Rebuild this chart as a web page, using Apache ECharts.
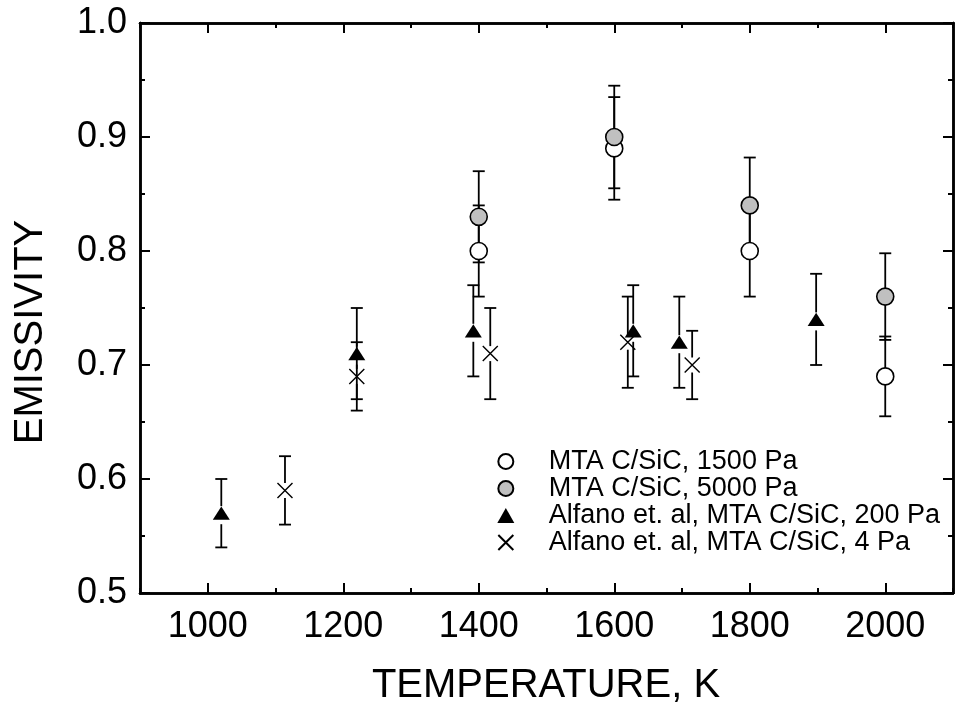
<!DOCTYPE html>
<html>
<head>
<meta charset="utf-8">
<script src="https://cdn.jsdelivr.net/npm/echarts@6/dist/echarts.min.js"></script>
<style>
  html, body { margin: 0; padding: 0; background: #fff; }
  #chart { width: 957px; height: 708px; }
</style>
</head>
<body>
<div id="chart"></div>
<script>
// data
var xMajor = [1000, 1200, 1400, 1600, 1800, 2000];
var yMajor = [0.5, 0.6, 0.7, 0.8, 0.9, 1.0];

var mta1500T = [1400, 1600, 1800, 2000];
var mta1500E = [0.80, 0.89, 0.80, 0.69];
var mta1500Err = [0.04, 0.045, 0.04, 0.035];

var mta5000T = [1400, 1600, 1800, 2000];
var mta5000E = [0.83, 0.90, 0.84, 0.76];
var mta5000Err = [0.04, 0.045, 0.042, 0.038];

var alf200T = [1020, 1220, 1392, 1628, 1696, 1898];
var alf200E = [0.57, 0.71, 0.73, 0.73, 0.72, 0.74];
var alf200Err = [0.03, 0.04, 0.04, 0.04, 0.04, 0.04];

var alf4T = [1114, 1220, 1417, 1620, 1715];
var alf4E = [0.59, 0.69, 0.71, 0.72, 0.70];
var alf4Err = [0.03, 0.03, 0.04, 0.04, 0.03];

var names = [
  'MTA C/SiC, 1500 Pa',
  'MTA C/SiC, 5000 Pa',
  'Alfano et. al, MTA C/SiC, 200 Pa',
  'Alfano et. al, MTA C/SiC, 4 Pa'
];

var FONT = '"Liberation Sans", Arial, sans-serif';
var crossPath = 'path://M0,0L10,10M10,0L0,10';
var triPath = 'path://M8.5,0L17,15L0,15Z';

function pts(t, e) {
  return t.map(function (v, i) { return [v, e[i]]; });
}
function bars(t, e, err) {
  return t.map(function (v, i) { return [v, e[i], err[i]]; });
}

// error bar that leaves a gap round the symbol
function errBar(gapUp, gapDown) {
  return function (params, api) {
    var x = api.value(0), y = api.value(1), e = api.value(2);
    var c = api.coord([x, y]);
    var hi = api.coord([x, y + e]);
    var lo = api.coord([x, y - e]);
    var hw = 6;
    var st = { stroke: '#000', lineWidth: 1.8 };
    var ch = [];
    if (c[1] - gapUp > hi[1]) ch.push({ type: 'line', shape: { x1: c[0], y1: hi[1], x2: c[0], y2: c[1] - gapUp }, style: st });
    if (c[1] + gapDown < lo[1]) ch.push({ type: 'line', shape: { x1: c[0], y1: c[1] + gapDown, x2: c[0], y2: lo[1] }, style: st });
    ch.push({ type: 'line', shape: { x1: c[0] - hw, y1: hi[1], x2: c[0] + hw, y2: hi[1] }, style: st });
    ch.push({ type: 'line', shape: { x1: c[0] - hw, y1: lo[1], x2: c[0] + hw, y2: lo[1] }, style: st });
    return { type: 'group', children: ch };
  };
}

function xAx(pos, len, custom, labels) {
  return {
    type: 'value', position: pos, min: 900, max: 2100, interval: 100,
    axisLine: { show: true, onZero: false, lineStyle: { color: '#000', width: 2.5 } },
    axisTick: { show: true, inside: true, length: len, customValues: custom, lineStyle: { color: '#000', width: 2 } },
    axisLabel: {
      show: labels, customValues: xMajor, margin: 16, color: '#000', fontSize: 36, fontFamily: FONT,
      formatter: function (v) { return (v % 200 === 0 && v >= 1000 && v <= 2000) ? String(v) : ''; }
    },
    splitLine: { show: false }
  };
}
function yAx(pos, len, custom, labels) {
  return {
    type: 'value', position: pos, min: 0.5, max: 1.0, interval: 0.05,
    axisLine: { show: true, onZero: false, lineStyle: { color: '#000', width: 2.5 } },
    axisTick: { show: true, inside: true, length: len, customValues: custom, lineStyle: { color: '#000', width: 2 } },
    axisLabel: {
      show: labels, customValues: yMajor, margin: 13, color: '#000', fontSize: 36, fontFamily: FONT,
      formatter: function (v) { return Math.round(v * 100) % 10 === 0 ? v.toFixed(1) : ''; }
    },
    splitLine: { show: false }
  };
}

var chart = echarts.init(document.getElementById('chart'));

var option = {
  backgroundColor: '#fff',
  animation: false,
  grid: { left: 140, top: 23, right: 4, bottom: 115 },
  xAxis: [
    xAx('bottom', 5, undefined, true),
    xAx('bottom', 10, xMajor, false),
    xAx('top', 5, undefined, false),
    xAx('top', 10, xMajor, false)
  ],
  yAxis: [
    yAx('left', 5, undefined, true),
    yAx('left', 10, yMajor, false),
    yAx('right', 5, undefined, false),
    yAx('right', 10, yMajor, false)
  ],
  legend: {
    data: names,
    orient: 'vertical',
    right: 12, top: 443,
    itemWidth: 76, itemHeight: 15, itemGap: 0,
    symbolKeepAspect: true,
    textStyle: { fontSize: 27, lineHeight: 27, fontFamily: FONT, color: '#000' }
  },
  graphic: [
    {
      type: 'text', x: 546, y: 686,
      style: { text: 'TEMPERATURE, K', fontSize: 40, fontFamily: FONT, fill: '#000', align: 'center', verticalAlign: 'middle' }
    },
    {
      type: 'text', x: 31, y: 332, rotation: Math.PI / 2,
      style: { text: 'EMISSIVITY', fontSize: 40, fontFamily: FONT, fill: '#000', align: 'center', verticalAlign: 'middle' }
    }
  ],
  series: [
    { type: 'custom', silent: true, renderItem: errBar(8.5, 8.5), data: bars(mta1500T, mta1500E, mta1500Err), z: 1 },
    { type: 'custom', silent: true, renderItem: errBar(8.5, 8.5), data: bars(mta5000T, mta5000E, mta5000Err), z: 1 },
    { type: 'custom', silent: true, renderItem: errBar(7, 11), data: bars(alf200T, alf200E, alf200Err), z: 1 },
    { type: 'custom', silent: true, renderItem: errBar(7.5, 7.5), data: bars(alf4T, alf4E, alf4Err), z: 1 },
    {
      name: names[0], type: 'scatter', symbol: 'circle', symbolSize: 17, z: 3,
      itemStyle: { color: '#fff', borderColor: '#000', borderWidth: 1.6, opacity: 1 },
      data: pts(mta1500T, mta1500E)
    },
    {
      name: names[1], type: 'scatter', symbol: 'circle', symbolSize: 17, z: 3,
      itemStyle: { color: '#c0c0c0', borderColor: '#000', borderWidth: 1.6, opacity: 1 },
      data: pts(mta5000T, mta5000E)
    },
    {
      name: names[2], type: 'scatter', symbol: triPath, symbolSize: [17, 15], symbolKeepAspect: true, z: 3,
      itemStyle: { color: '#000', opacity: 1 },
      data: pts(alf200T, alf200E)
    },
    {
      name: names[3], type: 'scatter', symbol: crossPath, symbolSize: 15, z: 3,
      itemStyle: { color: 'rgba(0,0,0,0)', borderColor: '#000', borderWidth: 1.4, opacity: 1 },
      data: pts(alf4T, alf4E)
    }
  ]
};

chart.setOption(option);
</script>
</body>
</html>
